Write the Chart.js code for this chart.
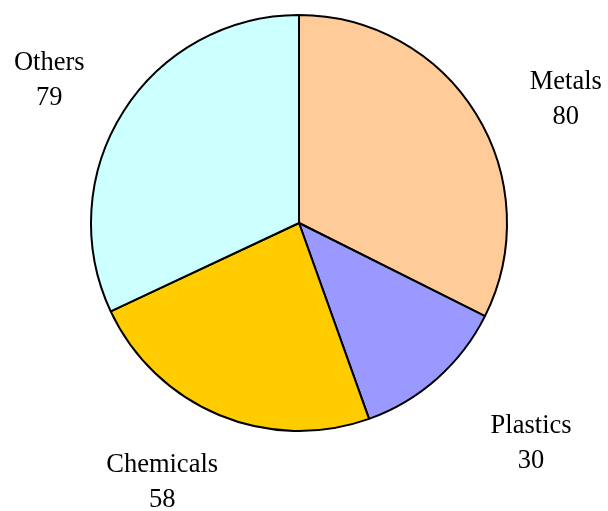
<!DOCTYPE html>
<html lang="en">
<head>
    <meta charset="UTF-8">
    <title>Materials</title>
    <script src="https://cdn.jsdelivr.net/npm/chart.js"></script>
    <style>
        html, body {
            margin: 0;
            padding: 0;
            background: #ffffff;
        }
        .chart-box {
            width: 608px;
            height: 511px;
        }
    </style>
</head>
<body>
    <div class="chart-box">
        <canvas id="pieChart" width="608" height="511"></canvas>
    </div>

    <script>
        const categories = ["Metals", "Plastics", "Chemicals", "Others"];
        const amounts = [80, 30, 58, 79];
        const sliceColors = ["#FFCC99", "#9999FF", "#FFCC00", "#CCFFFF"];

        // writes "name / value" beside each slice, outside the pie
        const outsideLabels = {
            id: "outsideLabels",
            afterDatasetsDraw(chart, args, opts) {
                const ctx = chart.ctx;
                const arcs = chart.getDatasetMeta(0).data;
                ctx.save();
                ctx.fillStyle = "#000";
                ctx.font = opts.font;
                ctx.textAlign = "center";
                ctx.textBaseline = "middle";
                arcs.forEach((arc, i) => {
                    const p = arc.getProps(["x", "y", "startAngle", "endAngle", "outerRadius"], true);
                    const mid = (p.startAngle + p.endAngle) / 2;
                    const r = p.outerRadius * opts.distance;
                    const nudge = opts.nudge[i] || [0, 0];
                    const cx = p.x + Math.cos(mid) * r + nudge[0];
                    const cy = p.y + Math.sin(mid) * r + nudge[1];
                    ctx.fillText(categories[i], cx, cy - opts.lineGap / 2);
                    ctx.fillText(String(amounts[i]), cx, cy + opts.lineGap / 2);
                });
                ctx.restore();
            }
        };

        const ctx = document.getElementById("pieChart").getContext("2d");
        new Chart(ctx, {
            type: "pie",
            data: {
                labels: categories,
                datasets: [{
                    data: amounts,
                    backgroundColor: sliceColors,
                    borderColor: "#000",
                    borderWidth: 2,
                    radius: 208
                }]
            },
            options: {
                responsive: false,
                animation: false,
                layout: {
                    padding: { left: 80, right: 90, top: 10, bottom: 75 }
                },
                plugins: {
                    legend: { display: false },
                    tooltip: { enabled: false },
                    outsideLabels: {
                        font: "26.5px 'Liberation Serif', 'Times New Roman', serif",
                        distance: 1.4,
                        lineGap: 35,
                        nudge: [[19, 30], [39, 3], [-25, -9], [-4, 14]]
                    }
                }
            },
            plugins: [outsideLabels]
        });
    </script>
</body>
</html>
